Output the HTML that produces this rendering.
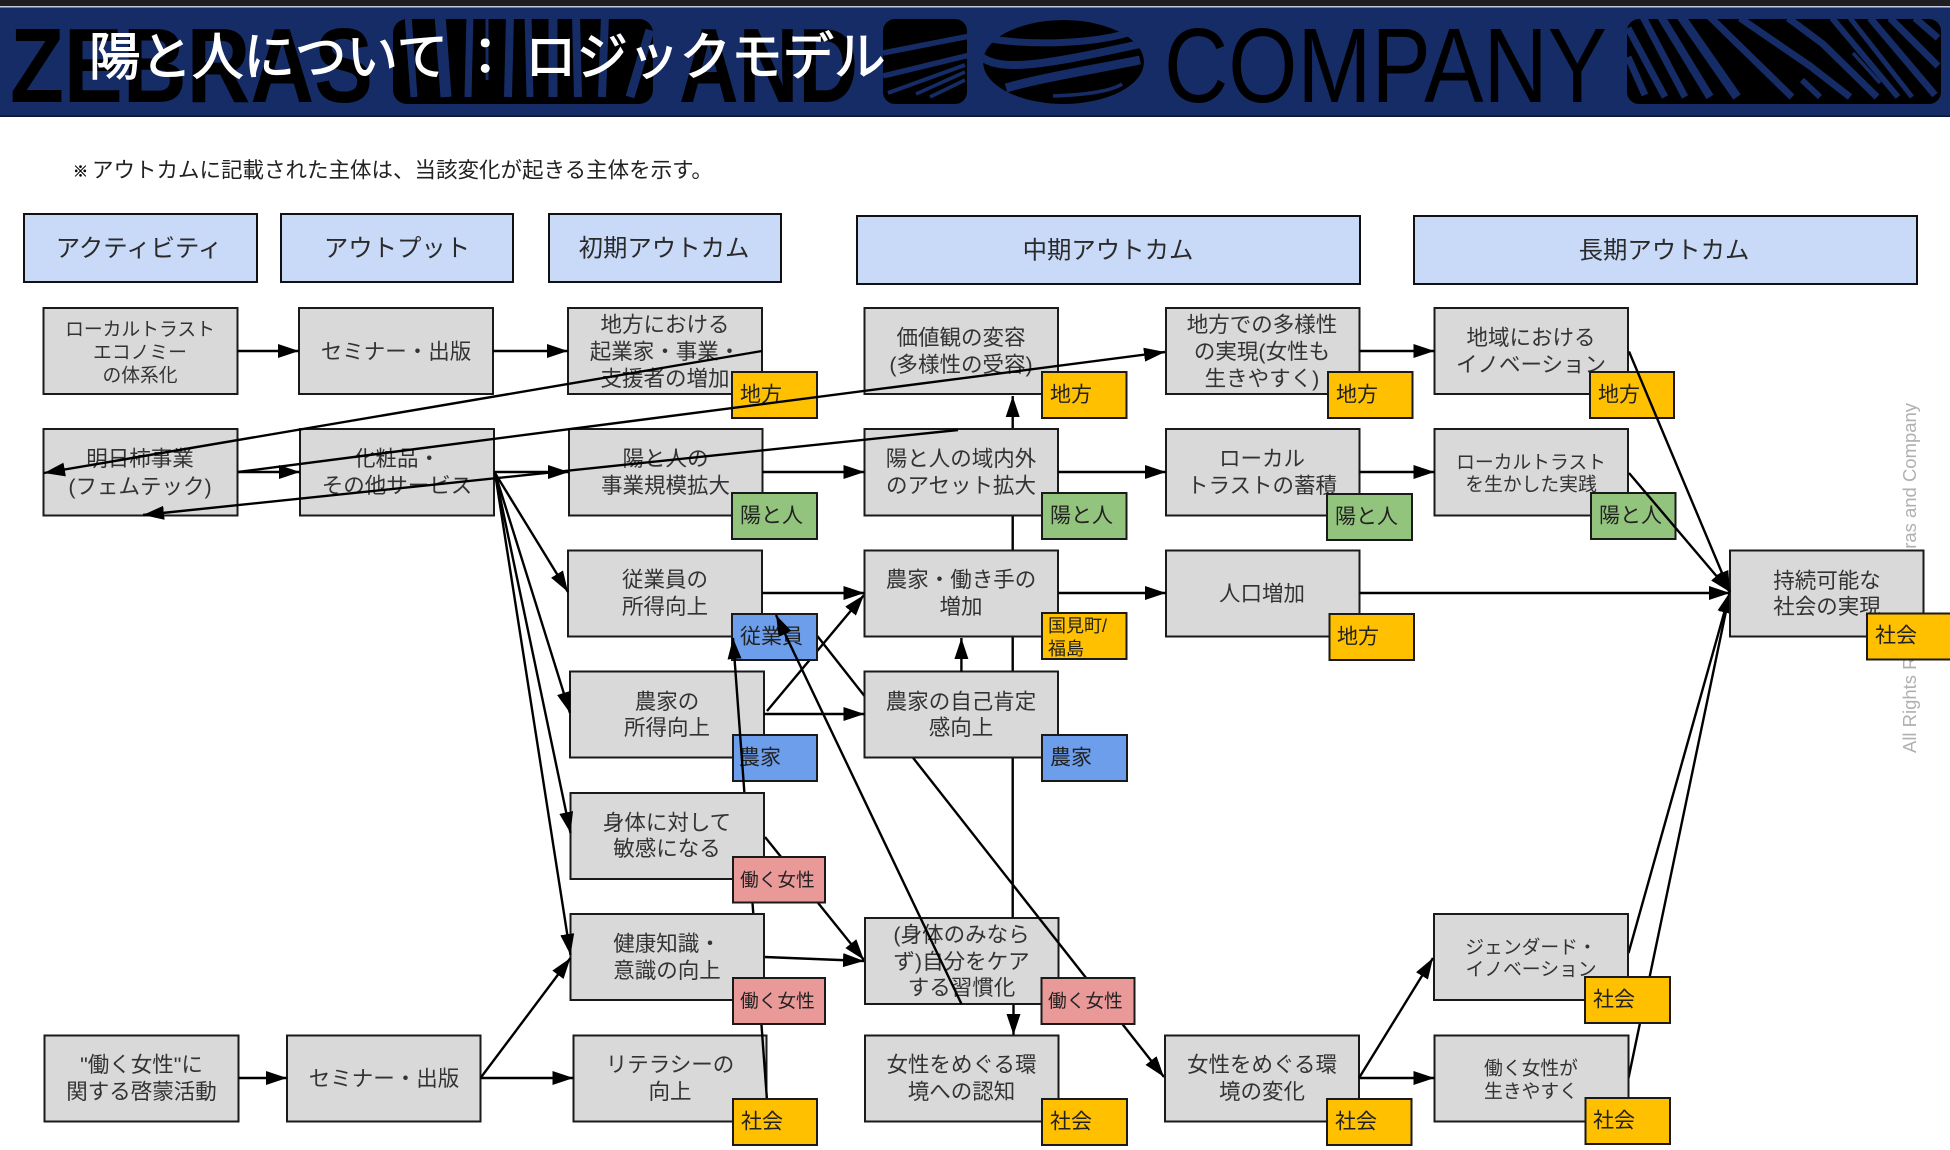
<!DOCTYPE html>
<html lang="ja">
<head>
<meta charset="utf-8">
<title>陽と人について：ロジックモデル</title>
<style>
html,body{margin:0;padding:0;background:#fff;width:1950px;height:1150px;overflow:hidden}
svg{display:block;position:absolute;left:0;top:0}
text{font-family:"Liberation Sans","Noto Sans CJK JP",sans-serif;dominant-baseline:central;transform:translateY(1px)}
.b{fill:#d9d9d9;stroke:#1a1a1a;stroke-width:2}
.h{fill:#c9daf8;stroke:#111;stroke-width:2}
.y{fill:#ffc000;stroke:#1a1a1a;stroke-width:2}
.g{fill:#93c47d;stroke:#1a1a1a;stroke-width:2}
.u{fill:#6d9eeb;stroke:#1a1a1a;stroke-width:2}
.p{fill:#ea9999;stroke:#1a1a1a;stroke-width:2}
.t{font-size:21.5px;fill:#333;text-anchor:middle}
.s{font-size:18.8px;fill:#333;text-anchor:middle}
.ht{font-size:24.4px;fill:#2a2a2a;text-anchor:middle}
.tg{font-size:21px;fill:#222}
.tw{font-size:18.7px;fill:#222}
.l line{stroke:#000;stroke-width:2.4;marker-end:url(#a)}
.st line,.st path{stroke:#162c66;fill:none}
</style>
</head>
<body>
<svg width="1950" height="1150" viewBox="0 0 1950 1150" xmlns="http://www.w3.org/2000/svg">
<defs>
<marker id="a" markerUnits="userSpaceOnUse" markerWidth="21" markerHeight="14" refX="21" refY="7" orient="auto">
<path d="M0 0L21 7L0 14z" fill="#000"/>
</marker>
<clipPath id="c1"><rect x="393" y="19" width="260" height="85" rx="14"/></clipPath>
<clipPath id="c2"><rect x="883" y="19" width="84" height="85" rx="12"/></clipPath>
<clipPath id="c3"><ellipse cx="1063.5" cy="62" rx="80.5" ry="42"/></clipPath>
<clipPath id="c4"><rect x="1627" y="19" width="314" height="85" rx="12"/></clipPath>
</defs>

<!-- banner -->
<rect x="0" y="0" width="1950" height="6" fill="#1f1f22"/>
<rect x="0" y="6" width="1950" height="1.5" fill="#c5c9de"/>
<rect x="0" y="7.5" width="1950" height="108.5" fill="#162c66"/>
<rect x="0" y="115.5" width="1950" height="1.5" fill="#0a1436"/>

<text x="10" y="101" style="dominant-baseline:auto;font-weight:700" font-size="106" textLength="363" lengthAdjust="spacingAndGlyphs" fill="#000">ZEBRAS</text>
<text x="679" y="101" style="dominant-baseline:auto;font-weight:700" font-size="106" textLength="179" lengthAdjust="spacingAndGlyphs" fill="#000">AND</text>
<text x="1164" y="101" style="dominant-baseline:auto" font-size="106" textLength="443" lengthAdjust="spacingAndGlyphs" fill="#000">COMPANY</text>

<g clip-path="url(#c1)">
<rect x="393" y="19" width="260" height="85" fill="#000"/>
<g class="st">
<line x1="408" y1="15" x2="414" y2="97" stroke-width="7"/>
<line x1="440" y1="15" x2="446" y2="97" stroke-width="11"/>
<line x1="470" y1="15" x2="468" y2="97" stroke-width="7"/>
<line x1="487" y1="15" x2="487" y2="80" stroke-width="3"/>
<line x1="510" y1="15" x2="508" y2="97" stroke-width="8"/>
<line x1="528" y1="15" x2="530" y2="97" stroke-width="7"/>
<line x1="553" y1="15" x2="553" y2="97" stroke-width="9"/>
<line x1="576" y1="15" x2="578" y2="97" stroke-width="8"/>
<line x1="605" y1="15" x2="602" y2="97" stroke-width="8"/>
<line x1="650" y1="30" x2="630" y2="97" stroke-width="9"/>
<path d="M640 10L660 26L660 10z" fill="#162c66"/>
</g>
</g>

<g clip-path="url(#c2)">
<rect x="883" y="19" width="84" height="85" fill="#000"/>
<g class="st">
<path d="M878 10H967V23L883 32z" fill="#162c66" stroke-width="0"/>
<line x1="883" y1="53" x2="970" y2="36" stroke-width="5.5"/>
<line x1="883" y1="76" x2="970" y2="55" stroke-width="5.5"/>
<line x1="888" y1="93" x2="965" y2="65" stroke-width="4"/>
<line x1="916" y1="94" x2="965" y2="72" stroke-width="3.5"/>
<line x1="930" y1="97" x2="965" y2="80" stroke-width="3.5"/>
</g>
</g>

<g clip-path="url(#c3)">
<ellipse cx="1063.5" cy="62" rx="80.5" ry="42" fill="#000"/>
<g class="st">
<path d="M985 38C1030 46 1090 44 1128 33" stroke-width="7"/>
<path d="M980 56C1000 72 1040 66 1140 44" stroke-width="8"/>
<path d="M1006 88C1040 78 1090 70 1140 60" stroke-width="9"/>
<path d="M1053 96C1080 95 1110 92 1122 84" stroke-width="3.5"/>
</g>
</g>

<g clip-path="url(#c4)">
<rect x="1627" y="19" width="314" height="85" fill="#000"/>
<g class="st" stroke-width="7">
<line x1="1628" y1="57" x2="1645" y2="95"/>
<line x1="1628" y1="28" x2="1665" y2="97"/>
<line x1="1642" y1="15" x2="1685" y2="97"/>
<line x1="1660" y1="15" x2="1710" y2="97" stroke-width="8"/>
<line x1="1680" y1="15" x2="1737" y2="97" stroke-width="9"/>
<line x1="1708" y1="15" x2="1792" y2="97" stroke-width="7"/>
<path d="M1740 18L1810 66L1850 97" stroke-width="7"/>
<path d="M1788 18L1823 44L1877 97" stroke-width="7"/>
<line x1="1832" y1="18" x2="1898" y2="97" stroke-width="6"/>
<line x1="1850" y1="18" x2="1912" y2="97" stroke-width="5"/>
<line x1="1870" y1="18" x2="1935" y2="95" stroke-width="7"/>
<line x1="1890" y1="18" x2="1938" y2="66" stroke-width="7"/>
<line x1="1915" y1="18" x2="1938" y2="38" stroke-width="7"/>
<line x1="1802" y1="80" x2="1820" y2="97" stroke-width="6"/>
<line x1="1853" y1="53" x2="1880" y2="83" stroke-width="3.5"/>
</g>
</g>

<!-- title -->
<g fill="#fff" stroke="#fff" stroke-width="1.1" font-size="51.5">
<text x="89" y="56">陽と人について</text>
<text x="459.5" y="56">：</text>
<text x="525" y="56">ロジックモデル</text>
</g>

<!-- note -->
<text x="73" y="171" font-size="15" fill="#000" stroke="#000" stroke-width="0.4">※</text>
<text x="92" y="169.5" font-size="21.5" fill="#222">アウトカムに記載された主体は、当該変化が起きる主体を示す。</text>

<!-- headers -->
<rect class="h" x="24" y="214" width="233" height="68"/><text class="ht" x="139" y="248">アクティビティ</text>
<rect class="h" x="281" y="214" width="232" height="68"/><text class="ht" x="397" y="248">アウトプット</text>
<rect class="h" x="549" y="214" width="232" height="68"/><text class="ht" x="664" y="248">初期アウトカム</text>
<rect class="h" x="857" y="216" width="503" height="68"/><text class="ht" x="1108" y="250">中期アウトカム</text>
<rect class="h" x="1414" y="216" width="503" height="68"/><text class="ht" x="1664" y="250">長期アウトカム</text>

<!-- watermark -->
<text style="dominant-baseline:auto;transform:translate(1916px,753px) rotate(-90deg)" font-size="18.5" textLength="350" lengthAdjust="spacingAndGlyphs" fill="#b0b0b0">All Rights Reserved, Zebras and Company</text>

<!-- lines under everything -->
<g class="l">
<line x1="1012.7" y1="918" x2="1012.7" y2="396"/>
<line x1="765" y1="837" x2="864" y2="960"/>
<line x1="1628.5" y1="953" x2="1730" y2="592"/>
<line x1="1628.5" y1="1078" x2="1730" y2="592"/>
<line x1="1013.5" y1="1004" x2="1013.5" y2="1035"/>
</g>

<rect class="b" x="865" y="918" width="193.5" height="86"/>
<text class="t" x="961.5" y="934">(身体のみなら</text>
<text class="t" x="961.5" y="961">ず)自分をケア</text>
<text class="t" x="961.5" y="987">する習慣化</text>

<g class="l">
<line x1="767" y1="711" x2="864" y2="595"/>
<line x1="800" y1="614" x2="1164" y2="1077"/>
</g>

<!-- row 1 -->
<rect class="b" x="43.5" y="308" width="194" height="86"/>
<text class="s" x="140" y="328">ローカルトラスト</text><text class="s" x="140" y="351">エコノミー</text><text class="s" x="140" y="374">の体系化</text>
<rect class="b" x="299" y="308" width="194" height="86"/>
<text class="t" x="396" y="351">セミナー・出版</text>
<rect class="b" x="568" y="308" width="194" height="86"/>
<text class="t" x="665" y="324">地方における</text><text class="t" x="665" y="351">起業家・事業・</text><text class="t" x="665" y="378">支援者の増加</text>
<rect class="b" x="864.5" y="308" width="193.5" height="86"/>
<text class="t" x="961" y="337">価値観の変容</text><text class="t" x="961" y="364">(多様性の受容)</text>
<rect class="b" x="1166" y="308" width="193.5" height="86"/>
<text class="t" x="1262" y="324">地方での多様性</text><text class="t" x="1262" y="351">の実現(女性も</text><text class="t" x="1262" y="378">生きやすく)</text>
<rect class="b" x="1434.5" y="308" width="193.5" height="86"/>
<text class="t" x="1531" y="337">地域における</text><text class="t" x="1531" y="364">イノベーション</text>

<rect class="y" x="732" y="372" width="85" height="46"/><text class="tg" x="740" y="394">地方</text>
<rect class="y" x="1042" y="372" width="84.5" height="46"/><text class="tg" x="1050" y="394">地方</text>
<rect class="y" x="1328" y="372" width="84.5" height="46"/><text class="tg" x="1336" y="394">地方</text>
<rect class="y" x="1590" y="372" width="84" height="46"/><text class="tg" x="1598" y="394">地方</text>

<!-- row 2 -->
<rect class="b" x="43.5" y="429" width="194" height="86.5"/>
<text class="t" x="140" y="458">明日柿事業</text><text class="t" x="140" y="486">(フェムテック)</text>
<rect class="b" x="300" y="429" width="194" height="86.5"/>
<text class="t" x="397" y="458">化粧品・</text><text class="t" x="397" y="485">その他サービス</text>
<rect class="b" x="569" y="429" width="193.5" height="86.5"/>
<text class="t" x="665.5" y="458">陽と人の</text><text class="t" x="665.5" y="485">事業規模拡大</text>
<rect class="b" x="864.5" y="429" width="193.5" height="86.5"/>
<text class="t" x="961" y="458">陽と人の域内外</text><text class="t" x="961" y="485">のアセット拡大</text>
<rect class="b" x="1166" y="429" width="193.5" height="86.5"/>
<text class="t" x="1262" y="458">ローカル</text><text class="t" x="1262" y="485">トラストの蓄積</text>
<rect class="b" x="1434.5" y="429" width="193.5" height="86.5"/>
<text class="s" x="1531" y="461">ローカルトラスト</text><text class="s" x="1531" y="483">を生かした実践</text>

<rect class="g" x="732" y="493" width="85" height="46"/><text class="tg" x="740" y="515">陽と人</text>
<rect class="g" x="1042" y="493" width="84.5" height="46"/><text class="tg" x="1050" y="515">陽と人</text>
<rect class="g" x="1327" y="494" width="85" height="46"/><text class="tg" x="1335" y="516">陽と人</text>
<rect class="g" x="1591" y="493" width="84.5" height="46"/><text class="tg" x="1599" y="515">陽と人</text>

<!-- row 3 -->
<rect class="b" x="568" y="550.5" width="194" height="86"/>
<text class="t" x="665" y="579">従業員の</text><text class="t" x="665" y="606">所得向上</text>
<rect class="b" x="864.5" y="550.5" width="193.5" height="86"/>
<text class="t" x="961" y="579">農家・働き手の</text><text class="t" x="961" y="606">増加</text>
<rect class="b" x="1166" y="550.5" width="193.5" height="86"/>
<text class="t" x="1262" y="593">人口増加</text>
<rect class="b" x="1730" y="550.5" width="193.5" height="86"/>
<text class="t" x="1827" y="580">持続可能な</text><text class="t" x="1827" y="606">社会の実現</text>

<rect class="u" x="732" y="614" width="85" height="46"/><text class="tg" x="740" y="636">従業員</text>
<rect class="y" x="1042" y="613" width="84.5" height="46"/>
<text x="1048" y="625" font-size="18" fill="#222">国見町/</text><text x="1048" y="648" font-size="18" fill="#222">福島</text>
<rect class="y" x="1329.5" y="614" width="84.5" height="46"/><text class="tg" x="1337" y="636">地方</text>
<rect class="y" x="1867" y="613.5" width="90" height="46"/><text class="tg" x="1875" y="635">社会</text>

<!-- row 4 -->
<rect class="b" x="570" y="671.5" width="194" height="86"/>
<text class="t" x="667" y="701">農家の</text><text class="t" x="667" y="727">所得向上</text>
<rect class="b" x="864.5" y="671.5" width="193.5" height="86"/>
<text class="t" x="961" y="701">農家の自己肯定</text><text class="t" x="961" y="727">感向上</text>

<rect class="u" x="733" y="735" width="84" height="46"/><text class="tg" x="739" y="757">農家</text>
<rect class="u" x="1042" y="735" width="85" height="46"/><text class="tg" x="1050" y="757">農家</text>

<!-- bottom row (behind some lines) -->
<rect class="b" x="44.5" y="1035.5" width="194" height="86"/>
<text class="t" x="141.5" y="1064">"働く女性"に</text><text class="t" x="141.5" y="1091">関する啓蒙活動</text>
<rect class="b" x="287" y="1035.5" width="193.5" height="86"/>
<text class="t" x="384" y="1078">セミナー・出版</text>
<rect class="b" x="573.5" y="1035.5" width="193" height="86"/>
<text class="t" x="670" y="1064">リテラシーの</text><text class="t" x="670" y="1091">向上</text>
<rect class="b" x="865" y="1035.5" width="193.5" height="86"/>
<text class="t" x="961.5" y="1064">女性をめぐる環</text><text class="t" x="961.5" y="1091">境への認知</text>
<rect class="b" x="1165" y="1035.5" width="194" height="86"/>
<text class="t" x="1262" y="1064">女性をめぐる環</text><text class="t" x="1262" y="1091">境の変化</text>
<rect class="b" x="1434.5" y="1035.5" width="194" height="86"/>
<text class="s" x="1531" y="1067">働く女性が</text><text class="s" x="1531" y="1090">生きやすく</text>
<rect class="b" x="1434" y="914" width="194" height="86"/>
<text class="s" x="1531" y="946">ジェンダード・</text><text class="s" x="1531" y="968">イノベーション</text>

<rect class="y" x="1042" y="1099" width="85" height="46"/><text class="tg" x="1050" y="1121">社会</text>
<rect class="y" x="1327" y="1099" width="84.5" height="46"/><text class="tg" x="1335" y="1121">社会</text>
<rect class="y" x="1585.5" y="1098" width="84.5" height="46"/><text class="tg" x="1593" y="1120">社会</text>
<rect class="y" x="1585" y="977" width="85" height="46"/><text class="tg" x="1593" y="999">社会</text>

<!-- line from リテラシー up to 従業員 -->
<g class="l"><line x1="767" y1="1100" x2="733" y2="638"/></g>

<rect class="b" x="570.5" y="793" width="193.5" height="86"/>
<text class="t" x="667" y="822">身体に対して</text><text class="t" x="667" y="848">敏感になる</text>
<rect class="b" x="570.5" y="914" width="193.5" height="86"/>
<text class="t" x="667" y="943">健康知識・</text><text class="t" x="667" y="970">意識の向上</text>

<rect class="p" x="733" y="857" width="92" height="45.5"/><text class="tw" x="740" y="879">働く女性</text>
<rect class="p" x="733" y="978" width="92" height="46"/><text class="tw" x="740" y="1000">働く女性</text>
<rect class="p" x="1041.5" y="978" width="93" height="46"/><text class="tw" x="1048" y="1000">働く女性</text>
<rect class="y" x="733" y="1099" width="84" height="46"/><text class="tg" x="741" y="1121">社会</text>

<!-- top lines -->
<g class="l">
<line x1="237.5" y1="351" x2="299" y2="351"/>
<line x1="493" y1="351" x2="568" y2="351"/>
<line x1="762" y1="351" x2="44" y2="473"/>
<line x1="238" y1="472" x2="1165" y2="352"/>
<line x1="238" y1="472" x2="300" y2="472"/>
<line x1="494" y1="472" x2="569" y2="472"/>
<line x1="762.5" y1="472" x2="864.5" y2="472"/>
<line x1="1058" y1="472" x2="1166" y2="472"/>
<line x1="1359.5" y1="472" x2="1434.5" y2="472"/>
<line x1="1359.5" y1="351" x2="1434.5" y2="351"/>
<line x1="958" y1="430" x2="143" y2="515"/>
<line x1="495" y1="473" x2="568" y2="592"/>
<line x1="495" y1="473" x2="570" y2="713"/>
<line x1="495" y1="473" x2="570.5" y2="833"/>
<line x1="495" y1="473" x2="570.5" y2="955"/>
<line x1="480.5" y1="1078" x2="570.5" y2="958"/>
<line x1="480.5" y1="1078" x2="573.5" y2="1078"/>
<line x1="238.5" y1="1078" x2="287" y2="1078"/>
<line x1="765" y1="957" x2="864" y2="961"/>
<line x1="961.5" y1="1004" x2="776" y2="615"/>
<line x1="762" y1="593" x2="864.5" y2="593"/>
<line x1="764" y1="714" x2="864.5" y2="714"/>
<line x1="961.4" y1="671.5" x2="961.4" y2="638"/>
<line x1="1058" y1="593" x2="1166" y2="593"/>
<line x1="1359.5" y1="593" x2="1730" y2="593"/>
<line x1="1629" y1="351.5" x2="1730" y2="592"/>
<line x1="1629" y1="473" x2="1730" y2="592"/>
<line x1="1359" y1="1078" x2="1434.5" y2="1078"/>
<line x1="1359" y1="1078" x2="1433" y2="958"/>
</g>
</svg>
</body>
</html>
